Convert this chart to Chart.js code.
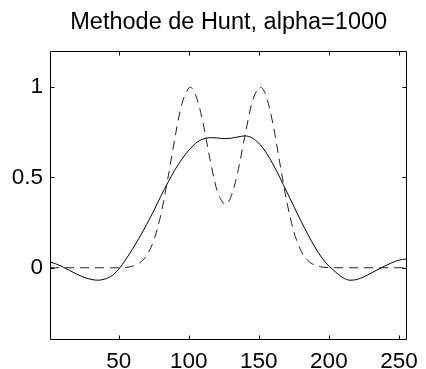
<!DOCTYPE html>
<html>
<head>
<meta charset="utf-8">
<script src="https://cdn.jsdelivr.net/npm/chart.js@4/dist/chart.umd.min.js"></script>
<style>
  html, body { margin: 0; padding: 0; background: #fff; }
  #wrap { width: 426px; height: 369px; }
</style>
</head>
<body>
<div id="wrap"><canvas id="c" width="426" height="369"></canvas></div>
<script>
const titleText = "Methode de Hunt, alpha=1000";
const xSamples = [1,5,10,15,20,25,30,35,40,45,50,55,60,65,70,75,80,85,90,95,100,101,105,110,115,120,125,126,130,135,140,145,150,151,155,160,165,170,175,180,185,190,195,200,205,210,215,220,225,230,235,240,245,250,255,256];
const originalSignal = [0,0,0,0,0,0,0,0,0,0,0,0.002,0.009,0.027,0.068,0.151,0.29,0.49,0.713,0.904,0.995,1.0,0.955,0.81,0.607,0.433,0.355,0.35,0.39,0.53,0.727,0.91,0.997,1.0,0.956,0.80,0.58,0.365,0.20,0.095,0.04,0.0145,0.004,0.001,0,0,0,0,0,0,0,0,0,0,0,0];
const huntRestored = [0.032,0.022,0.005,-0.015,-0.035,-0.052,-0.064,-0.069,-0.063,-0.045,-0.008,0.045,0.105,0.17,0.24,0.315,0.395,0.47,0.54,0.60,0.65,0.658,0.69,0.712,0.72,0.719,0.715,0.715,0.717,0.724,0.73,0.72,0.69,0.682,0.64,0.575,0.50,0.42,0.34,0.26,0.185,0.115,0.055,0.01,-0.025,-0.055,-0.069,-0.065,-0.05,-0.03,-0.01,0.01,0.028,0.042,0.048,0.048];
const xTickValues = [50,100,150,200,250];
const yTickValues = [0,0.5,1];
const xRange = [1, 256];
const yRange = [-0.4, 1.2];

const pts = (ys) => xSamples.map((x, i) => ({ x: x, y: ys[i] }));
const fontFam = "'Liberation Sans', Arial, Helvetica, sans-serif";

const boxPlugin = {
  id: 'matlabBox',
  afterDatasetsDraw(chart) {
    const ctx = chart.ctx;
    const a = chart.chartArea;
    const L = Math.round(a.left) + 0.5, R = Math.round(a.right) - 0.5;
    const T = Math.round(a.top) + 0.5, B = Math.round(a.bottom) - 0.5;
    const tl = 4;
    ctx.save();
    ctx.strokeStyle = '#000';
    ctx.lineWidth = 1;
    ctx.beginPath();
    ctx.rect(L, T, R - L, B - T);
    const xs = chart.scales.x, ys = chart.scales.y;
    xTickValues.forEach(v => {
      const px = Math.round(xs.getPixelForValue(v)) + 0.5;
      ctx.moveTo(px, B); ctx.lineTo(px, B - tl);
      ctx.moveTo(px, T); ctx.lineTo(px, T + tl);
    });
    yTickValues.forEach(v => {
      const py = Math.round(ys.getPixelForValue(v)) + 0.5;
      ctx.moveTo(L, py); ctx.lineTo(L + tl, py);
      ctx.moveTo(R, py); ctx.lineTo(R - tl, py);
    });
    ctx.stroke();
    // title centred over the axes box
    ctx.fillStyle = '#000';
    ctx.font = '23.5px ' + fontFam;
    ctx.textAlign = 'center';
    ctx.textBaseline = 'middle';
    ctx.fillText(titleText, (a.left + a.right) / 2, 22.5);
    ctx.restore();
  }
};

new Chart(document.getElementById('c'), {
  type: 'line',
  data: {
    datasets: [
      {
        label: 'original',
        data: pts(originalSignal),
        borderColor: '#222',
        borderWidth: 1,
        borderDash: [9, 6],
        pointRadius: 0,
        fill: false,
        cubicInterpolationMode: 'monotone'
      },
      {
        label: 'Hunt',
        data: pts(huntRestored),
        borderColor: '#000',
        borderWidth: 1,
        pointRadius: 0,
        fill: false,
        cubicInterpolationMode: 'monotone'
      }
    ]
  },
  options: {
    responsive: false,
    devicePixelRatio: 1,
    animation: false,
    layout: { padding: { left: 0, right: 12, top: 51, bottom: 0 } },
    plugins: {
      legend: { display: false },
      tooltip: { enabled: false },
      title: { display: false }
    },
    scales: {
      x: {
        type: 'linear',
        min: xRange[0],
        max: xRange[1],
        afterBuildTicks(s) { s.ticks = xTickValues.map(v => ({ value: v })); },
        afterFit(s) { s.height = 29; },
        grid: { display: false, drawTicks: false },
        border: { display: false },
        ticks: {
          color: '#000',
          font: { family: fontFam, size: 22.5 },
          padding: 8,
          maxRotation: 0,
          autoSkip: false,
          callback: (v) => String(v)
        }
      },
      y: {
        type: 'linear',
        min: yRange[0],
        max: yRange[1],
        afterBuildTicks(s) { s.ticks = yTickValues.map(v => ({ value: v })); },
        afterFit(s) { s.width = 50; },
        grid: { display: false, drawTicks: false },
        border: { display: false },
        ticks: {
          color: '#000',
          font: { family: fontFam, size: 22.5 },
          padding: 7,
          autoSkip: false,
          callback: (v) => String(v)
        }
      }
    }
  },
  plugins: [boxPlugin]
});
</script>
</body>
</html>
